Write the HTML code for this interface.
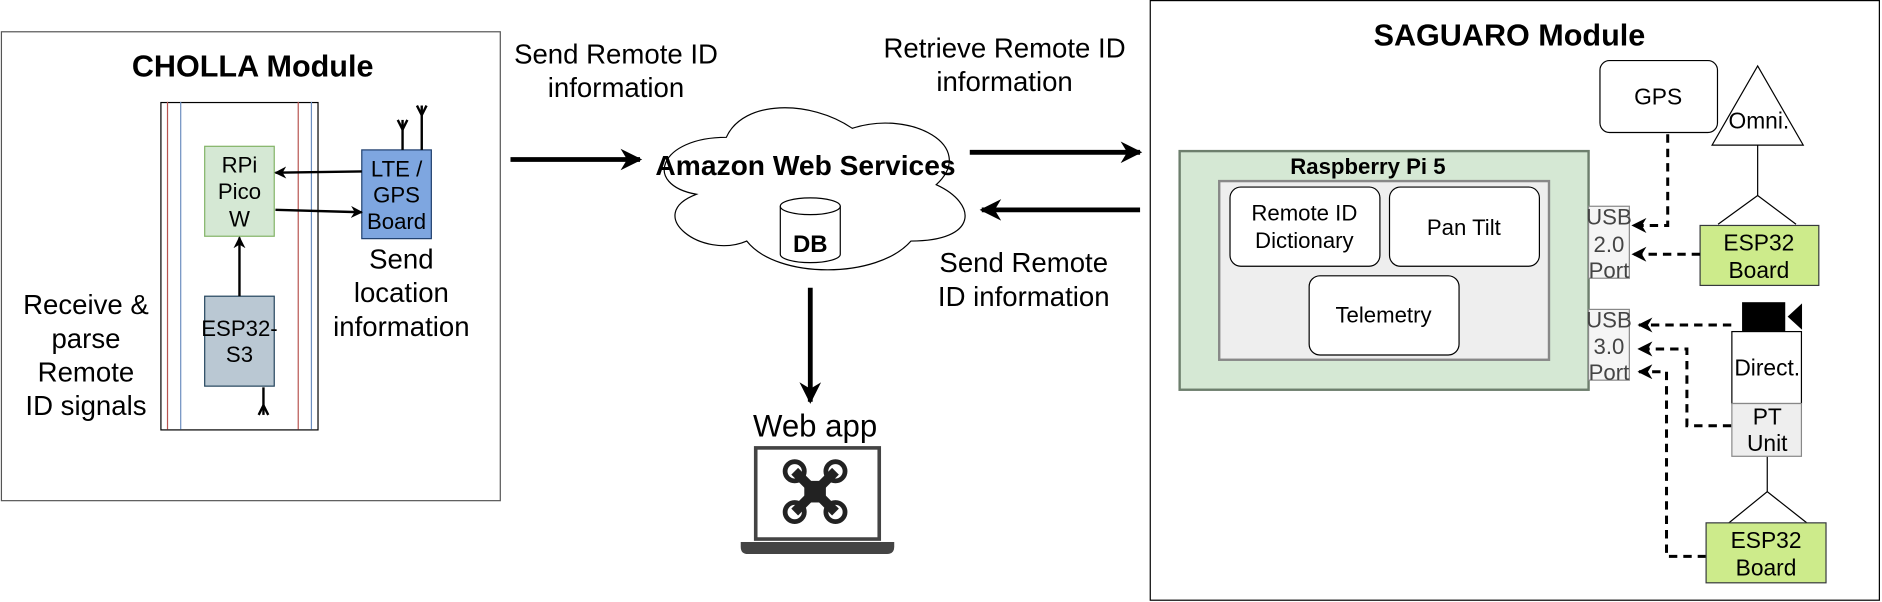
<!DOCTYPE html>
<html><head><meta charset="utf-8"><style>
html,body{margin:0;padding:0;background:#fff;}
svg{display:block;font-family:"Liberation Sans",Arial,sans-serif;}
</style></head><body>
<svg width="1882" height="602" viewBox="0 0 1568 502" xmlns="http://www.w3.org/2000/svg">
<defs>
<marker id="ah" viewBox="0 0 10 10" refX="9" refY="5" markerWidth="20" markerHeight="18" markerUnits="userSpaceOnUse" orient="auto"><path d="M0,0 L10,5 L0,10 L3,5 Z" fill="#000"/></marker>
<marker id="ahb" viewBox="0 0 10 10" refX="9" refY="5" markerWidth="5" markerHeight="5" orient="auto"><path d="M0,0 L10,5 L0,10 L3,5 Z" fill="#000"/></marker>
</defs>
<rect width="1568" height="502" fill="#fff"/>

<!-- CHOLLA -->
<rect x="0.5" y="26.5" width="416" height="391" fill="#fff" stroke="#555" stroke-width="1"/>
<text x="210" y="64" font-size="25.5" font-weight="bold" text-anchor="middle">CHOLLA Module</text>
<rect x="133.5" y="85.5" width="131" height="273" fill="#fff" stroke="#000" stroke-width="1"/>
<line x1="139" y1="85" x2="139" y2="358" stroke="#b85450" stroke-width="1"/>
<line x1="150" y1="85" x2="150" y2="358" stroke="#6c8ebf" stroke-width="1"/>
<line x1="248" y1="85" x2="248" y2="358" stroke="#b85450" stroke-width="1"/>
<line x1="259" y1="85" x2="259" y2="358" stroke="#6c8ebf" stroke-width="1"/>
<rect x="170" y="122" width="58" height="75" fill="#d5e8d4" stroke="#82b366"/>
<text font-size="18.5" text-anchor="middle"><tspan x="199" y="144">RPi</tspan><tspan x="199" y="166">Pico</tspan><tspan x="199" y="189">W</tspan></text>
<rect x="170" y="247" width="58" height="75" fill="#bac8d3" stroke="#23445d"/>
<text font-size="18.5" text-anchor="middle"><tspan x="199" y="280">ESP32-</tspan><tspan x="199" y="302">S3</tspan></text>
<rect x="301" y="125" width="58" height="74" fill="#7ea6e0" stroke="#1e3f6e"/>
<text font-size="18.5" text-anchor="middle"><tspan x="330" y="147">LTE /</tspan><tspan x="330" y="169">GPS</tspan><tspan x="330" y="191">Board</tspan></text>
<line x1="301" y1="143" x2="229" y2="144" stroke="#000" stroke-width="2" marker-end="url(#ahb)"/>
<line x1="229" y1="175" x2="301" y2="177" stroke="#000" stroke-width="2" marker-end="url(#ahb)"/>
<line x1="199" y1="247" x2="199" y2="198" stroke="#000" stroke-width="2" marker-end="url(#ahb)"/>
<g stroke="#000" stroke-width="2" fill="none">
<line x1="335" y1="125" x2="335" y2="100"/><path d="M331,100 L335,108 L339,100"/>
<line x1="351" y1="125" x2="351" y2="88"/><path d="M347,88 L351,96 L355,88"/>
<line x1="219" y1="323" x2="219" y2="346"/><path d="M215,346 L219,338 L223,346"/>
</g>
<text font-size="23" text-anchor="middle"><tspan x="334" y="224">Send</tspan><tspan x="334" y="252">location</tspan><tspan x="334" y="280">information</tspan></text>
<text font-size="23" text-anchor="middle"><tspan x="71" y="262">Receive &amp;</tspan><tspan x="71" y="290">parse</tspan><tspan x="71" y="318">Remote</tspan><tspan x="71" y="346">ID signals</tspan></text>

<!-- middle -->
<text font-size="23" text-anchor="middle"><tspan x="513" y="53">Send Remote ID</tspan><tspan x="513" y="81">information</tspan></text>
<line x1="425" y1="133" x2="533" y2="133" stroke="#000" stroke-width="4" marker-end="url(#ah)"/>
<path d="M605,114.5 C549,114.5 535,154 580,162 C535,179 585,217 622,201 C647,233 731,233 759,201 C815,201 815,170 780,154 C815,122 759,91 710,107 C675,83 619,83 605,114.5 Z" fill="#fff" stroke="#000" stroke-width="1"/>
<text x="671" y="146" font-size="23.5" font-weight="bold" text-anchor="middle">Amazon Web Services</text>
<path d="M650,172 L650,212 A25,7 0 0 0 700,212 L700,172" fill="#fff" stroke="#000"/>
<ellipse cx="675" cy="172" rx="25" ry="7" fill="#fff" stroke="#000"/>
<text x="675" y="210" font-size="20" font-weight="bold" text-anchor="middle">DB</text>
<line x1="675" y1="240" x2="675" y2="335" stroke="#000" stroke-width="4" marker-end="url(#ah)"/>
<text x="679" y="364" font-size="26" text-anchor="middle">Web app</text>
<rect x="629.5" y="373.5" width="103" height="76" fill="#fff" stroke="#444" stroke-width="3"/>
<path d="M617,452 L745,452 L745,456 Q745,462 739,462 L623,462 Q617,462 617,456 Z" fill="#444"/>
<g stroke="#222" fill="none">
<line x1="662" y1="393" x2="696" y2="427" stroke-width="8"/>
<line x1="696" y1="393" x2="662" y2="427" stroke-width="8"/>
<circle cx="662" cy="393" r="8" stroke-width="4"/><circle cx="696" cy="393" r="8" stroke-width="4"/>
<circle cx="662" cy="427" r="8" stroke-width="4"/><circle cx="696" cy="427" r="8" stroke-width="4"/>
</g>
<rect x="670" y="401" width="18" height="18" fill="#222"/>
<text font-size="23" text-anchor="middle"><tspan x="837" y="48">Retrieve Remote ID</tspan><tspan x="837" y="76">information</tspan></text>
<line x1="808" y1="127" x2="950" y2="127" stroke="#000" stroke-width="4" marker-end="url(#ah)"/>
<line x1="950" y1="175" x2="818" y2="175" stroke="#000" stroke-width="4" marker-end="url(#ah)"/>
<text font-size="23" text-anchor="middle"><tspan x="853" y="227">Send Remote</tspan><tspan x="853" y="255">ID information</tspan></text>

<!-- SAGUARO -->
<rect x="958.5" y="0.5" width="608" height="500" fill="#fff" stroke="#000"/>
<text x="1258" y="38" font-size="25.5" font-weight="bold" text-anchor="middle">SAGUARO Module</text>
<rect x="1333.5" y="50.5" width="98" height="60" rx="8" fill="#fff" stroke="#000"/>
<text x="1382" y="87" font-size="19" text-anchor="middle">GPS</text>
<path d="M1465,55 L1503,121 L1427,121 Z" fill="#fff" stroke="#000"/>
<text x="1466" y="107" font-size="19" text-anchor="middle">Omni.</text>
<path d="M1465,121 L1465,163 M1432,187 L1465,163 L1497,187" stroke="#000" fill="none"/>
<rect x="1417" y="188" width="99" height="50" fill="#cdeb8b" stroke="#36393d"/>
<text font-size="19" text-anchor="middle"><tspan x="1466" y="209">ESP32</tspan><tspan x="1466" y="232">Board</tspan></text>

<rect x="983" y="126" width="341" height="199" fill="#d5e8d4" stroke="#6d7f6d" stroke-width="2"/>
<text x="1140" y="145" font-size="18.5" font-weight="bold" text-anchor="middle">Raspberry Pi 5</text>
<rect x="1016" y="151" width="275" height="149" fill="#eeeeee" stroke="#888" stroke-width="2"/>
<rect x="1025" y="156" width="125" height="66" rx="9" fill="#fff" stroke="#000"/>
<text font-size="18.5" text-anchor="middle"><tspan x="1087" y="184">Remote ID</tspan><tspan x="1087" y="207">Dictionary</tspan></text>
<rect x="1158" y="156" width="125" height="66" rx="9" fill="#fff" stroke="#000"/>
<text x="1220" y="196" font-size="18.5" text-anchor="middle">Pan Tilt</text>
<rect x="1091" y="230" width="125" height="66" rx="9" fill="#fff" stroke="#000"/>
<text x="1153" y="269" font-size="18.5" text-anchor="middle">Telemetry</text>

<rect x="1324" y="172" width="34" height="60" fill="#f5f5f5" stroke="#888"/>
<text font-size="18.5" fill="#444" text-anchor="middle"><tspan x="1341" y="187">USB</tspan><tspan x="1341" y="210">2.0</tspan><tspan x="1341" y="232">Port</tspan></text>
<rect x="1324" y="258" width="34" height="59" fill="#f5f5f5" stroke="#888"/>
<text font-size="18.5" fill="#444" text-anchor="middle"><tspan x="1341" y="273">USB</tspan><tspan x="1341" y="295">3.0</tspan><tspan x="1341" y="317">Port</tspan></text>

<g stroke="#000" stroke-width="2.5" fill="none" stroke-dasharray="7,5">
<path d="M1390,112 L1390,188 L1361,188" marker-end="url(#ahb)"/>
<path d="M1417,212 L1361,212" marker-end="url(#ahb)"/>
<path d="M1443,271 L1366,271" marker-end="url(#ahb)"/>
<path d="M1443,355 L1406,355 L1406,291 L1366,291" marker-end="url(#ahb)"/>
<path d="M1422,464 L1389,464 L1389,310 L1366,310" marker-end="url(#ahb)"/>
</g>
<rect x="1452" y="252" width="36" height="24" fill="#000"/>
<path d="M1502,253 L1502,275 L1490,264 Z" fill="#000"/>
<rect x="1443.5" y="276.5" width="58" height="60" fill="#fff" stroke="#000"/>
<text x="1473" y="313" font-size="19" text-anchor="middle">Direct.</text>
<rect x="1443.5" y="336.5" width="58" height="44" fill="#eeeeee" stroke="#888"/>
<text font-size="19" text-anchor="middle"><tspan x="1473" y="354">PT</tspan><tspan x="1473" y="376">Unit</tspan></text>
<path d="M1473,381 L1473,410 M1441,436 L1473,410 L1506,436" stroke="#000" fill="none"/>
<rect x="1422" y="436" width="100" height="50" fill="#cdeb8b" stroke="#36393d"/>
<text font-size="19" text-anchor="middle"><tspan x="1472" y="457">ESP32</tspan><tspan x="1472" y="480">Board</tspan></text>
</svg>
</body></html>
